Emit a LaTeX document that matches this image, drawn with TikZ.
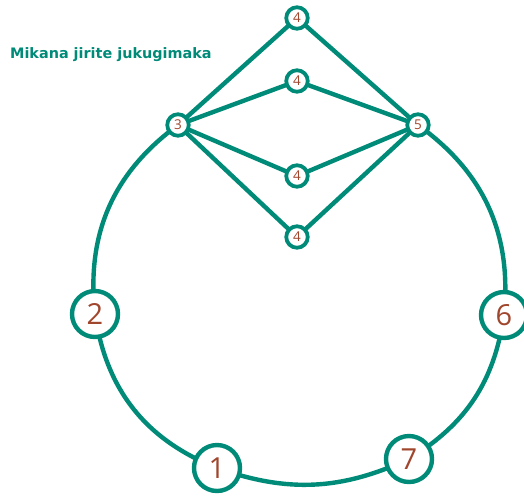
\documentclass[tikz,border=0pt]{standalone}
\usepackage{fontspec}
\setmainfont{Open Sans}
\newfontfamily\titlefont{DejaVu Sans}
\usetikzlibrary{backgrounds}
\definecolor{teal1}{RGB}{0,138,120}
\definecolor{numred}{RGB}{160,70,45}
\begin{document}
\begin{tikzpicture}[x=1pt,y=-1pt,
  small/.style={circle,draw=teal1,line width=3.8pt,fill=white,minimum size=21.5pt,inner sep=0pt,text=numred,font=\fontsize{13.5}{13.5}\selectfont},
  big/.style={circle,draw=teal1,line width=4.4pt,fill=white,minimum size=46pt,inner sep=0pt,text=numred,font=\fontsize{29}{29}\selectfont},
  edge/.style={draw=teal1,line width=4.4pt}]
\useasboundingbox (0,0) rectangle (524,496);
\node[anchor=west,text=teal1,font=\titlefont\bfseries\fontsize{14.4}{14.4}\selectfont,inner sep=0pt] (title) at (10,55) {Mikana jirite jukugimaka};
\node[small] (n4a) at (297,18) {4};
\node[small] (n4b) at (297,81) {4};
\node[small] (n4c) at (297,176) {4};
\node[small] (n4d) at (297,237) {4};
\node[small] (n3) at (178,125) {3};
\node[small] (n5) at (418,125) {5};
\node[big] (n2) at (95,314) {2};
\node[big] (n6) at (504,315) {6};
\node[big] (n1) at (217,468) {1};
\node[big] (n7) at (409,459) {7};
\begin{scope}[on background layer]
\path[edge] (n3.center) to[bend right=30] (n2.center);
\path[edge] (n2.center) to[bend right=30] (n1.center);
\path[edge] (n1.center) to[bend right=22] (n7.center);
\path[edge] (n7.center) to[bend right=25] (n6.center);
\path[edge] (n6.center) to[bend right=30] (n5.center);
\foreach \m in {n4a,n4b,n4c,n4d} {
  \path[edge] (n3.center) -- (\m.center) -- (n5.center);
}
\end{scope}
\end{tikzpicture}
\end{document}
